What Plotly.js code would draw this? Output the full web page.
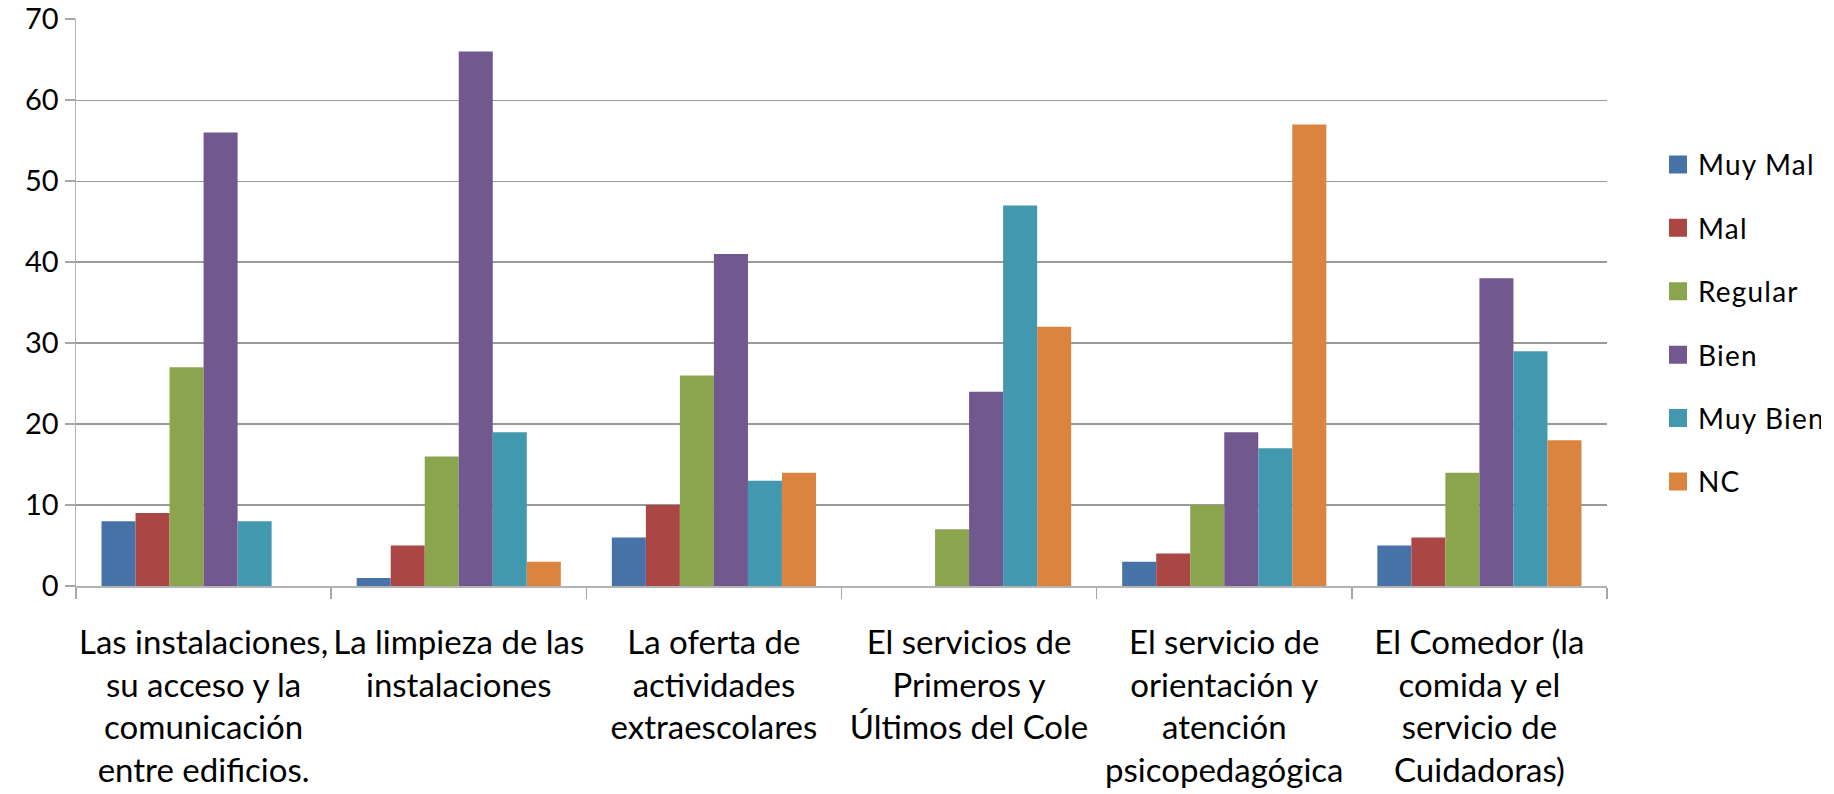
<!DOCTYPE html>
<html><head><meta charset="utf-8">
<script src="https://cdn.plot.ly/plotly-3.0.1.min.js"></script>
<style>
html,body{margin:0;padding:0;background:#fff;}
#chart{width:1834px;height:794px;}
#chart .legendtext{letter-spacing:1.2px;}
</style>
</head><body><div id="chart"></div>
<script>
const categories = [
  'Las instalaciones,<br>su acceso y la<br>comunicación<br>entre edificios.',
  'La limpieza de las<br>instalaciones',
  'La oferta de<br>actividades<br>extraescolares',
  'El servicios de<br>Primeros y<br>Últimos del Cole',
  'El servicio de<br>orientación y<br>atención<br>psicopedagógica',
  'El Comedor (la<br>comida y el<br>servicio de<br>Cuidadoras)'
];
const seriesNames = ['Muy Mal', 'Mal', 'Regular', 'Bien', 'Muy Bien', 'NC'];
const muyMal  = [8, 1, 6, 0, 3, 5];
const mal     = [9, 5, 10, 0, 4, 6];
const regular = [27, 16, 26, 7, 10, 14];
const bien    = [56, 66, 41, 24, 19, 38];
const muyBien = [8, 19, 13, 47, 17, 29];
const nc      = [0, 3, 14, 32, 57, 18];
const yTicks  = [0, 10, 20, 30, 40, 50, 60, 70];

const seriesValues = [muyMal, mal, regular, bien, muyBien, nc];
const colors = ['#4672A8', '#AA4744', '#8AA54E', '#71588F', '#4298AF', '#DB843F'];
const FONT = 'Lato, Calibri, Carlito, "Open Sans", sans-serif';

const traces = [];
seriesValues.forEach((vals, i) => {
  traces.push({
    type: 'bar', name: seriesNames[i], x: categories, y: vals,
    marker: {color: colors[i], line: {width: 0}},
    showlegend: false, hoverinfo: 'x+y+name'
  });
});
seriesValues.forEach((vals, i) => {
  traces.push({
    type: 'scatter', mode: 'markers', name: seriesNames[i], x: [null], y: [null],
    legendgroup: 'g' + i,
    marker: {symbol: 'square', size: 16, color: colors[i], line: {width: 2, color: colors[i]}},
    showlegend: true, hoverinfo: 'skip'
  });
});

const yMax = 70.02;
const layout = {
  width: 1834, height: 794,
  margin: {l: 76, r: 227, t: 19, b: 208, pad: 0},
  paper_bgcolor: '#fff', plot_bgcolor: '#fff',
  font: {family: FONT, color: '#000'},
  barmode: 'group', bargap: 0.2, bargroupgap: 0,
  showlegend: true,
  xaxis: {
    type: 'category', categoryorder: 'array', categoryarray: categories,
    tickson: 'boundaries', ticks: 'outside', ticklen: 11, tickwidth: 1.5, tickcolor: '#a6a6a6',
    showline: true, linecolor: '#b3b3b3', linewidth: 2,
    showgrid: false, zeroline: false, automargin: false,
    tickangle: 0,
    tickfont: {family: FONT, size: 33, color: '#000'},
    ticklabelstandoff: 26
  },
  yaxis: {
    range: [0, yMax], tickvals: yTicks, ticktext: yTicks.map(String),
    ticks: 'outside', ticklen: 10, tickwidth: 1.5, tickcolor: '#a6a6a6',
    showline: true, linecolor: '#b3b3b3', linewidth: 1.5,
    showgrid: true, gridcolor: '#9a9a9a', gridwidth: 1.2,
    zeroline: false, automargin: false,
    tickfont: {family: FONT, size: 29, color: '#000'},
    ticklabelstandoff: 16.5
  },
  legend: {
    x: 1.0333, xanchor: 'left', y: 0.787, yanchor: 'top',
    font: {family: FONT, size: 28, color: '#000'},
    traceorder: 'grouped', tracegroupgap: 24,
    bgcolor: 'rgba(0,0,0,0)', borderwidth: 0
  }
};

Plotly.newPlot('chart', traces, layout, {displayModeBar: false, staticPlot: true});
</script>
</body></html>
